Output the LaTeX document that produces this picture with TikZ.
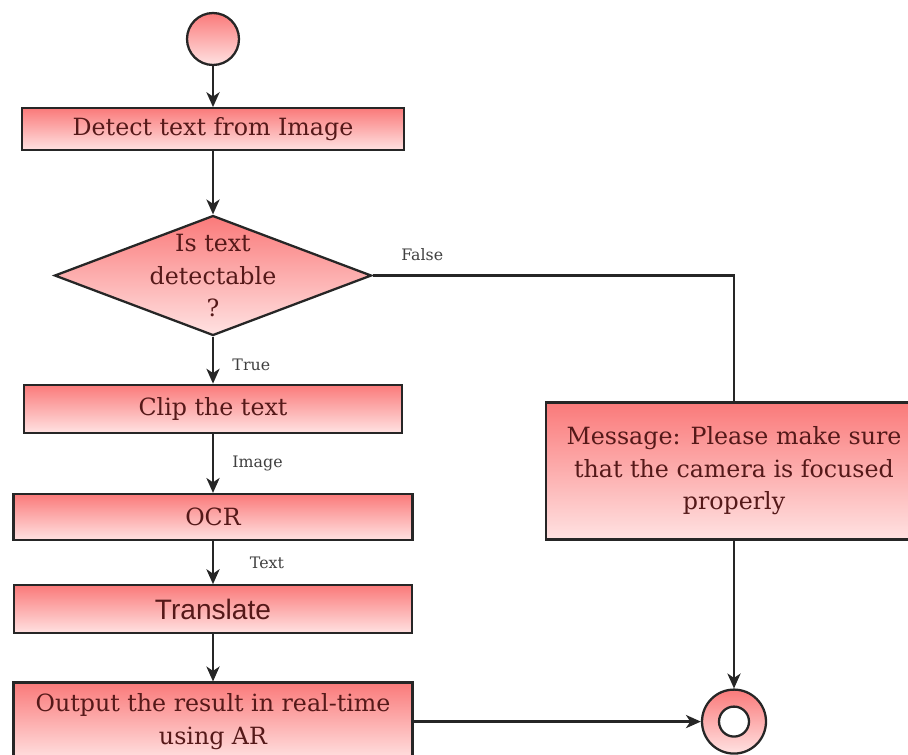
\documentclass[tikz,border=0pt]{standalone}
\usepackage{fontspec}
\setmainfont{DejaVu Serif}
\newfontfamily\arialfont{Liberation Sans}
\usetikzlibrary{
	arrows.meta,
	shapes,
	positioning,
	calc
	}
\definecolor{boxtop}{RGB}{250,122,122}
\definecolor{boxbot}{RGB}{255,226,226}
\definecolor{boxtext}{RGB}{85,25,25}
\tikzset{font={\fontsize{13.5pt}{18.5pt}\selectfont}}
\tikzset{
	activity/.style = {draw=black!85, line width=1.3pt, top color=boxtop, bottom color=boxbot,
		text=boxtext, align=center, inner sep=2pt},
	decision/.style = {activity, diamond, minimum width=6.34cm, minimum height=2.4cm, inner sep=0pt},
	initial/.style = {activity, circle, minimum size=1.04cm, inner sep=0pt},
	final/.style = {activity, circle, minimum size=1.28cm, inner sep=0pt,
		path picture={\draw[fill=white, line width=1.3pt] (path picture bounding box.center) circle (0.3cm);}},
	flow/.style = {->, line width=1.3pt, draw=black!85},
	line/.style = {-, line width=1.3pt, draw=black!85},
	guard/.style = {font={\fontsize{9pt}{10pt}\selectfont}, text=black!75}
}

\begin{document}
\begin{tikzpicture}[x=0.02cm, y=-0.02cm, >={Stealth[length=8.5pt, width=7.5pt, inset=2.5pt]}]
            \clip (0,0) rectangle (908,754);
            \node[initial]	(start)		at (213,39)						{};
            \node[activity, minimum width=7.64cm, minimum height=0.84cm]
                            (detect)	[below=0.82cm of start]		{Detect text from Image};
            \node[decision, label={[text=boxtext, align=center]center:Is text\\detectable\\?}]
                            (test)		[below=1.26cm of detect]		{};
            \node[activity, minimum width=7.56cm, minimum height=0.96cm]
                            (clip)		[below=0.94cm of test]		{Clip the text};
            \node[activity, minimum width=7.98cm, minimum height=0.92cm]
                            (ocr)		[below=1.18cm of clip]		{OCR};
            \node[activity, minimum width=7.96cm, minimum height=0.96cm]
                            (translate)	[below=0.86cm of ocr]		{\arialfont\fontsize{16pt}{18pt}\selectfont Translate};
            \node[activity, minimum width=7.98cm, minimum height=1.56cm]
                            (output)	[below=0.94cm of translate]	{Output the result in real-time\\using AR};
            \node[activity, minimum width=7.52cm, minimum height=2.74cm]
                            (msg)		at (734,471)					{Message: Please make sure\\that the camera is focused\\properly};
            \node[final]	(stop)		at (msg |- output)				{};
            \draw[flow]	(start)		-- (detect);
            \draw[flow]	(detect)	-- (test);
            \draw[flow]	(test)		-- node[guard, right, pos=0.6, xshift=0.25cm] {True} (clip);
            \draw[flow]	(clip)		-- node[guard, right, xshift=0.25cm] {Image} (ocr);
            \draw[flow]	(ocr)		-- node[guard, right, xshift=0.6cm] {Text} (translate);
            \draw[flow]	(translate)	-- (output);
            \draw[flow]	(output)	-- (stop);
            \draw[flow]	(msg)		-- (stop);
            \draw[line]	(test.east)	-| node[guard, above right, pos=0.03, yshift=0.15cm] {False} (msg.north);
        \end{tikzpicture}
\end{document}
